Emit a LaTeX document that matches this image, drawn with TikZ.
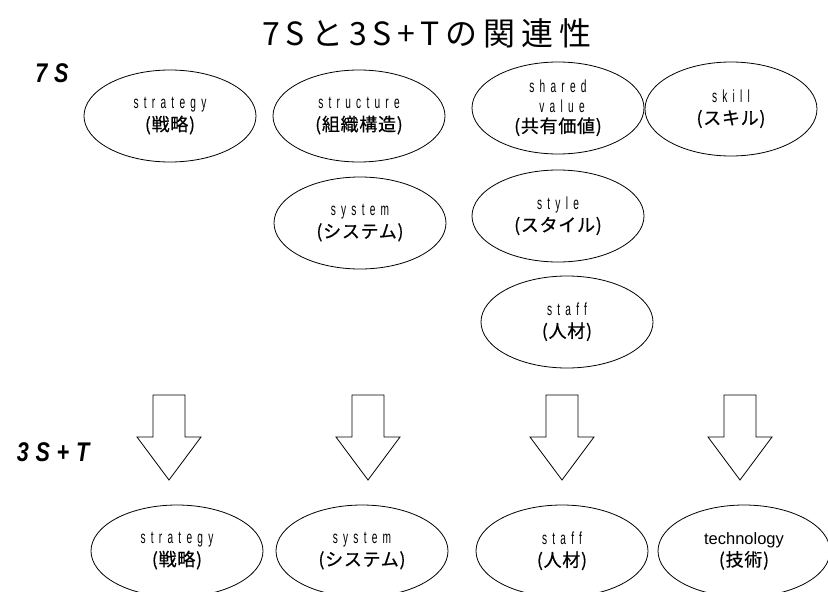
\documentclass[tikz,border=0pt]{standalone}
\usepackage{fontspec}
\usetikzlibrary{shapes.geometric}
\newfontfamily\latspaced[FakeStretch=0.58,LetterSpace=30]{Liberation Sans}
\newfontfamily\jpfont[LetterSpace=4,FakeBold=0.5]{Noto Sans CJK JP}
\newfontfamily\titlefont[LetterSpace=19]{Noto Sans CJK JP}
\newfontfamily\techfont{Liberation Sans}
\newfontfamily\labelfont[FakeStretch=0.8,LetterSpace=25]{Liberation Sans}
\newcommand\en[1]{{\latspaced\fontsize{17.5}{22}\selectfont #1}}
\newcommand\jp[1]{{\jpfont\fontsize{18}{22}\selectfont #1}}
\begin{document}
\begin{tikzpicture}[x=1pt,y=-1pt,
  oval/.style={draw=black,line width=0.8pt,ellipse,inner sep=0pt,
    minimum width=172pt,minimum height=92pt,align=center,
    font=\fontsize{17}{22}\selectfont},
  blockarrow/.style={draw=black,line width=0.8pt,fill=white,line join=miter},
  sidelabel/.style={font=\labelfont\bfseries\itshape\fontsize{27}{30}\selectfont},
  titlestyle/.style={font=\titlefont\fontsize{32}{36}\selectfont}]
\useasboundingbox (0,0) rectangle (828,592);
\clip (0,0) rectangle (828,592);

\node[titlestyle] (title) at (427,33) {7Sと3S\,+\,Tの関連性};
\node[sidelabel] (l7s) at (52,73) {7S};
\node[sidelabel] (l3st) at (53,452) {3S+T};

% 7S
\node[oval] (strategy) at (170,116) {\en{strategy}\\\jp{(戦略)}};
\node[oval] (structure) at (359,116) {\en{structure}\\\jp{(組織構造)}};
\node[oval,font=\fontsize{17}{21}\selectfont] (shared) at (558,108) {\en{shared}\\[-1pt]\en{\ value}\\[-1pt]\jp{(共有価値)}};
\node[oval,minimum height=94pt] (skill) at (731,109) {\en{skill}\\\jp{(スキル)}};
\node[oval] (system) at (360,223) {\en{system}\\\jp{(システム)}};
\node[oval] (style) at (558,216) {\en{style}\\\jp{(スタイル)}};
\node[oval] (staff) at (567,322) {\en{staff}\\\jp{(人材)}};

% arrows
\foreach \n/\x in {a1/169,a2/368,a3/562,a4/740}{
  \coordinate (\n) at (\x,395);
  \draw[blockarrow] (\n) ++(-16,0) -- ++(0,42) -- ++(-16,0) -- ++(32,43)
    -- ++(32,-43) -- ++(-16,0) -- ++(0,-42) -- cycle;
}

% 3S+T
\node[oval] (bstrategy) at (177,551) {\en{strategy}\\\jp{(戦略)}};
\node[oval] (bsystem) at (362,551) {\en{system}\\\jp{(システム)}};
\node[oval] (bstaff) at (562,551) {\en{staff}\\\jp{(人材)}};
\node[oval] (btech) at (744,551) {{\techfont\fontsize{16.5}{20}\selectfont technology}\\\jp{(技術)}};
\end{tikzpicture}
\end{document}
